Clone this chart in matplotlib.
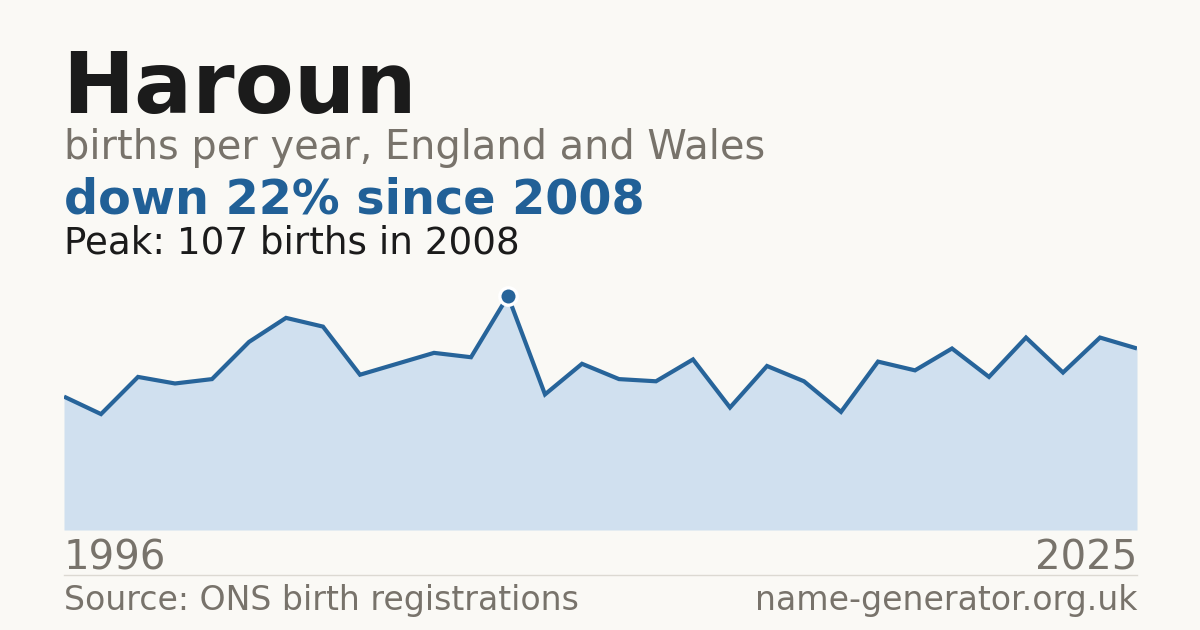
import matplotlib
matplotlib.use("Agg")
import matplotlib.pyplot as plt

# ---- data ----
years = list(range(1996, 2026))
births = [61, 53, 70, 67, 69, 86, 97, 93, 71, 76, 81, 79, 107, 62, 76,
          69, 68, 78, 56, 75, 68, 54, 77, 73, 83, 70, 88, 72, 88, 83]
name = "Haroun"
subtitle = "births per year, England and Wales"
headline = "down 22% since 2008"
peak_note = "Peak: 107 births in 2008"
source = "Source: ONS birth registrations"
site = "name-generator.org.uk"
peak_year = 2008
peak_value = 107

BG = "#faf9f5"
LINE = "#27649a"
FILL = "#d0e0ef"
GRAY = "#78736b"
DARK = "#1b1b1b"
BLUE = "#216097"

W, H = 1200, 630
fig = plt.figure(figsize=(12, 6.3), dpi=100, facecolor=BG)

def fx(px):
    return px / W

def fy(py):
    return 1 - py / H

# chart area: x 64..1137, y 280..530 (pixels)
ax = fig.add_axes([fx(64), fy(530), (1137 - 64) / W, 250 / H])
ax.set_facecolor(BG)
ax.fill_between(years, births, 0, color=FILL, linewidth=0, zorder=1)
ax.plot(years, births, color=LINE, linewidth=3.0, solid_joinstyle="miter",
        solid_capstyle="butt", zorder=2)
ax.plot([peak_year], [peak_value], marker="o", markersize=12.5,
        markerfacecolor=LINE, markeredgecolor="white", markeredgewidth=2.4,
        zorder=3, clip_on=False)
ax.set_xlim(years[0], years[-1])
ax.set_ylim(0, peak_value * 250 / 234)
ax.axis("off")

# texts
fig.text(fx(62), fy(113), name, fontsize=62, fontweight="bold", color=DARK,
         va="baseline", ha="left")
fig.text(fx(64), fy(159), subtitle, fontsize=28.7, color=GRAY,
         va="baseline", ha="left")
fig.text(fx(64), fy(214), headline, fontsize=34.4, fontweight="bold", color=BLUE,
         va="baseline", ha="left")
fig.text(fx(64), fy(254), peak_note, fontsize=26.8, color=DARK,
         va="baseline", ha="left")

fig.text(fx(64), fy(569), str(years[0]), fontsize=29, color=GRAY,
         va="baseline", ha="left")
fig.text(fx(1137), fy(569), str(years[-1]), fontsize=29, color=GRAY,
         va="baseline", ha="right")

# separator line
fig.add_artist(plt.Line2D([fx(64), fx(1137)], [fy(574.5), fy(574.5)],
                          color="#dcd9d2", linewidth=1.0))

fig.text(fx(64), fy(610), source, fontsize=23.9, color=GRAY,
         va="baseline", ha="left")
fig.text(fx(1137), fy(610), site, fontsize=23.9, color=GRAY,
         va="baseline", ha="right")

fig.savefig("out.png", dpi=100, facecolor=BG)
